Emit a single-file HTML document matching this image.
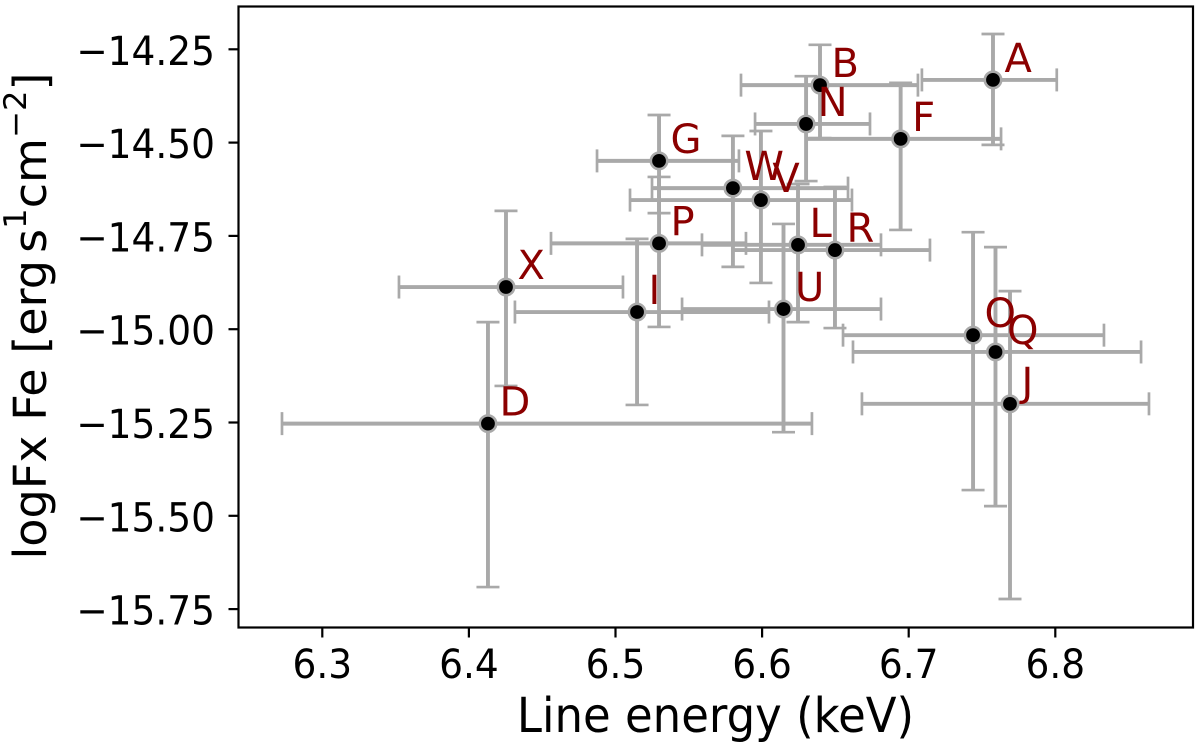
<!DOCTYPE html>
<html lang="en">
<head>
<meta charset="utf-8">
<title>Line energy vs logFx Fe</title>
<style>
html,body{margin:0;padding:0;background:#fff;width:1200px;height:748px;overflow:hidden}
svg{display:block}
text{font-family:"DejaVu Sans","Liberation Sans",sans-serif}
</style>
</head>
<body>
<svg id="chart" xmlns="http://www.w3.org/2000/svg" width="1200" height="748" viewBox="0 0 1200 748">
  <rect x="0" y="0" width="1200" height="748" fill="#fff"/>
  <g id="errors"></g>
  <g id="points"></g>
  <g id="labels"></g>
  <rect x="238.5" y="6.5" width="954.5" height="621" fill="none" stroke="#000" stroke-width="2.2"/>
  <g id="axes"></g>
  <text transform="translate(715.5,732) scale(1,1.07)" font-size="45" text-anchor="middle" fill="#000">Line energy (keV)</text>
  <text transform="translate(46,316) rotate(-90) scale(1.025,1)" font-size="45" text-anchor="middle" fill="#000">logFx Fe [erg<tspan dx="7">s</tspan><tspan font-size="31.5" dy="-20">1</tspan><tspan dy="20">cm</tspan><tspan font-size="31.5" dy="-20">−2</tspan><tspan dy="20">]</tspan></text>
</svg>
<script>
var names = ['A','B','N','F','G','W','V','P','L','R','X','I','U','D','O','Q','J'];
var energy = [6.7575,6.6395,6.63,6.6945,6.5297,6.5801,6.5992,6.5297,6.6245,6.6497,6.4253,6.5147,6.6146,6.413,6.7439,6.7592,6.7691];
var energyLow = [6.709,6.5856,6.5952,6.63,6.4874,6.5249,6.5099,6.456,6.559,6.5801,6.3523,6.4314,6.5454,6.2725,6.6552,6.662,6.6681];
var energyHigh = [6.801,6.7063,6.6736,6.763,6.5842,6.6586,6.6613,6.589,6.6811,6.7145,6.5051,6.6047,6.6811,6.634,6.8332,6.8585,6.8639];
var flux = [-14.332,-14.346,-14.45,-14.49,-14.549,-14.622,-14.654,-14.77,-14.774,-14.788,-14.887,-14.954,-14.946,-15.253,-15.016,-15.061,-15.2];
var fluxUpper = [-14.209,-14.238,-14.322,-14.34,-14.426,-14.482,-14.469,-14.592,-14.611,-14.619,-14.683,-14.758,-14.718,-14.981,-14.74,-14.78,-14.898];
var fluxLower = [-14.506,-14.488,-14.603,-14.734,-14.689,-14.833,-14.876,-14.994,-14.981,-14.997,-15.152,-15.203,-15.276,-15.691,-15.431,-15.474,-15.723];
var xTicks = [6.3,6.4,6.5,6.6,6.7,6.8];
var xTickLabels = ['6.3','6.4','6.5','6.6','6.7','6.8'];
var yTicks = [-14.25,-14.5,-14.75,-15,-15.25,-15.5,-15.75];
var yTickLabels = ['−14.25','−14.50','−14.75','−15.00','−15.25','−15.50','−15.75'];

var NS = 'http://www.w3.org/2000/svg';
function sx(v){ return 322.3 + (v - 6.3) * 1466; }
function sy(v){ return 49.3 + (-14.25 - v) * 373.2; }
function make(tag, attrs, parent){
  var el = document.createElementNS(NS, tag);
  for (var k in attrs) el.setAttribute(k, attrs[k]);
  parent.appendChild(el);
  return el;
}
function line(x1,y1,x2,y2,stroke,width,parent){
  return make('line',{x1:x1,y1:y1,x2:x2,y2:y2,stroke:stroke,'stroke-width':width},parent);
}

var errors = document.getElementById('errors');
var points = document.getElementById('points');
var labels = document.getElementById('labels');
var axes = document.getElementById('axes');
var GRAY = '#a9a9a9';
var CAP = 11.5;

names.forEach(function(name,i){
  var cx = sx(energy[i]), cy = sy(flux[i]);
  var xl = sx(energyLow[i]), xh = sx(energyHigh[i]);
  var yt = sy(fluxUpper[i]), yb = sy(fluxLower[i]);
  var g = make('g',{},errors);
  
  
  line(xl,cy,xh,cy,GRAY,3.9,g);
  line(cx,yt,cx,yb,GRAY,3.9,g);
  line(xl,cy-CAP,xl,cy+CAP,GRAY,2.7,g);
  line(xh,cy-CAP,xh,cy+CAP,GRAY,2.7,g);
  line(cx-CAP,yt,cx+CAP,yt,GRAY,2.7,g);
  line(cx-CAP,yb,cx+CAP,yb,GRAY,2.7,g);

  var c = make('circle',{cx:cx,cy:cy,r:8.2,fill:'#000',stroke:GRAY,'stroke-width':2.6},points);
  
  

  var t = make('text',{x:cx+11.5,y:cy-8,'font-size':40,fill:'#8b0000'},labels);
  
  
  t.textContent = name;
});

xTicks.forEach(function(v,i){
  var x = sx(v);
  var tick = line(x,627.5,x,637.5,'#000',2.2,axes);
  
  
  var t = make('text',{transform:'translate('+x+',678) scale(1,1.07)','font-size':37.5,'text-anchor':'middle',fill:'#000'},axes);
  
  
  t.textContent = xTickLabels[i];
});

yTicks.forEach(function(v,i){
  var y = sy(v);
  var tick = line(228.5,y,238.5,y,'#000',2.2,axes);
  
  
  var t = make('text',{transform:'translate(215,'+(y+15.5)+') scale(1,1.07)','font-size':37.5,'text-anchor':'end',fill:'#000'},axes);
  
  
  t.textContent = yTickLabels[i];
});
</script>
</body>
</html>
